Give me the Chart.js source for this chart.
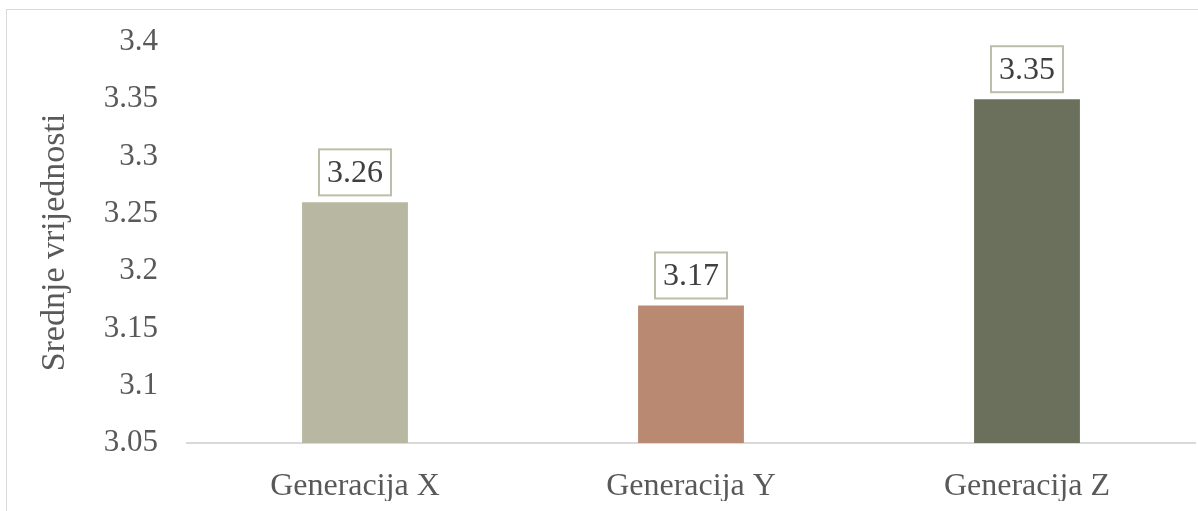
<!DOCTYPE html>
<html>
<head>
<meta charset="utf-8">
<script src="https://cdn.jsdelivr.net/npm/chart.js@4"></script>
<style>
  body { margin: 0; background: #fff; }
  #frame { position: absolute; left: 6px; top: 9px; width: 1300px; height: 600px; border: 1px solid #d9d9d9; }
  #wrap { position: absolute; left: 0; top: 0; width: 1198px; height: 511px; }
</style>
</head>
<body>
<div id="frame"></div>
<div id="wrap"><canvas id="MainChart"></canvas></div>
<script>
var categories = ["Generacija X", "Generacija Y", "Generacija Z"];
var values = [3.26, 3.17, 3.35];
var barColors = ["#b8b8a2", "#b98a71", "#6b705c"];
var yTicks = [3.05, 3.1, 3.15, 3.2, 3.25, 3.3, 3.35, 3.4];

var textColor = "#595959";
var fontFamily = "'Liberation Serif', 'Times New Roman', serif";

// boxed value labels above the bars
var boxLabels = {
  id: "boxLabels",
  afterDatasetsDraw: function (chart) {
    var ctx = chart.ctx;
    var meta = chart.getDatasetMeta(0);
    ctx.save();
    ctx.font = "32px " + fontFamily;
    ctx.textAlign = "center";
    ctx.textBaseline = "middle";
    meta.data.forEach(function (bar, i) {
      var txt = values[i].toFixed(2);
      var w = ctx.measureText(txt).width + 16;
      var h = 46;
      var cy = bar.y - 7 - h / 2;
      ctx.fillStyle = "#fff";
      ctx.fillRect(bar.x - w / 2, cy - h / 2, w, h);
      ctx.strokeStyle = "#bdbdaa";
      ctx.lineWidth = 2;
      ctx.strokeRect(bar.x - w / 2, cy - h / 2, w, h);
      ctx.fillStyle = "#404040";
      ctx.fillText(txt, bar.x, cy + 1);
    });
    ctx.restore();
  },
};

new Chart(document.getElementById("MainChart"), {
  type: "bar",
  data: {
    labels: categories,
    datasets: [
      {
        data: values,
        backgroundColor: barColors,
        categoryPercentage: 1,
        barPercentage: 0.315,
      },
    ],
  },
  options: {
    responsive: true,
    maintainAspectRatio: false,
    animation: false,
    layout: { padding: { left: 35, top: 10, right: 3, bottom: 10 } },
    plugins: {
      legend: { display: false },
      tooltip: { enabled: false },
    },
    scales: {
      x: {
        grid: { display: false },
        border: { display: true, color: "#d9d9d9", width: 2 },
        ticks: { color: textColor, font: { family: fontFamily, size: 32 }, padding: 16 },
        afterFit: function (scale) { scale.height = 58; },
      },
      y: {
        min: 3.05,
        max: 3.4,
        grid: { display: false },
        border: { display: false },
        afterBuildTicks: function (scale) {
          scale.ticks = yTicks.map(function (v) { return { value: v }; });
        },
        ticks: {
          color: textColor,
          font: { family: fontFamily, size: 31, lineHeight: 1.35 },
          padding: 21,
          callback: function (v) { return String(Math.round(v * 100) / 100); },
        },
        title: {
          display: true,
          text: "Srednje vrijednosti",
          color: textColor,
          font: { family: fontFamily, size: 34 },
          padding: 0,
        },
        afterFit: function (scale) { scale.width = 152; },
      },
    },
  },
  plugins: [boxLabels],
});
</script>
</body>
</html>
